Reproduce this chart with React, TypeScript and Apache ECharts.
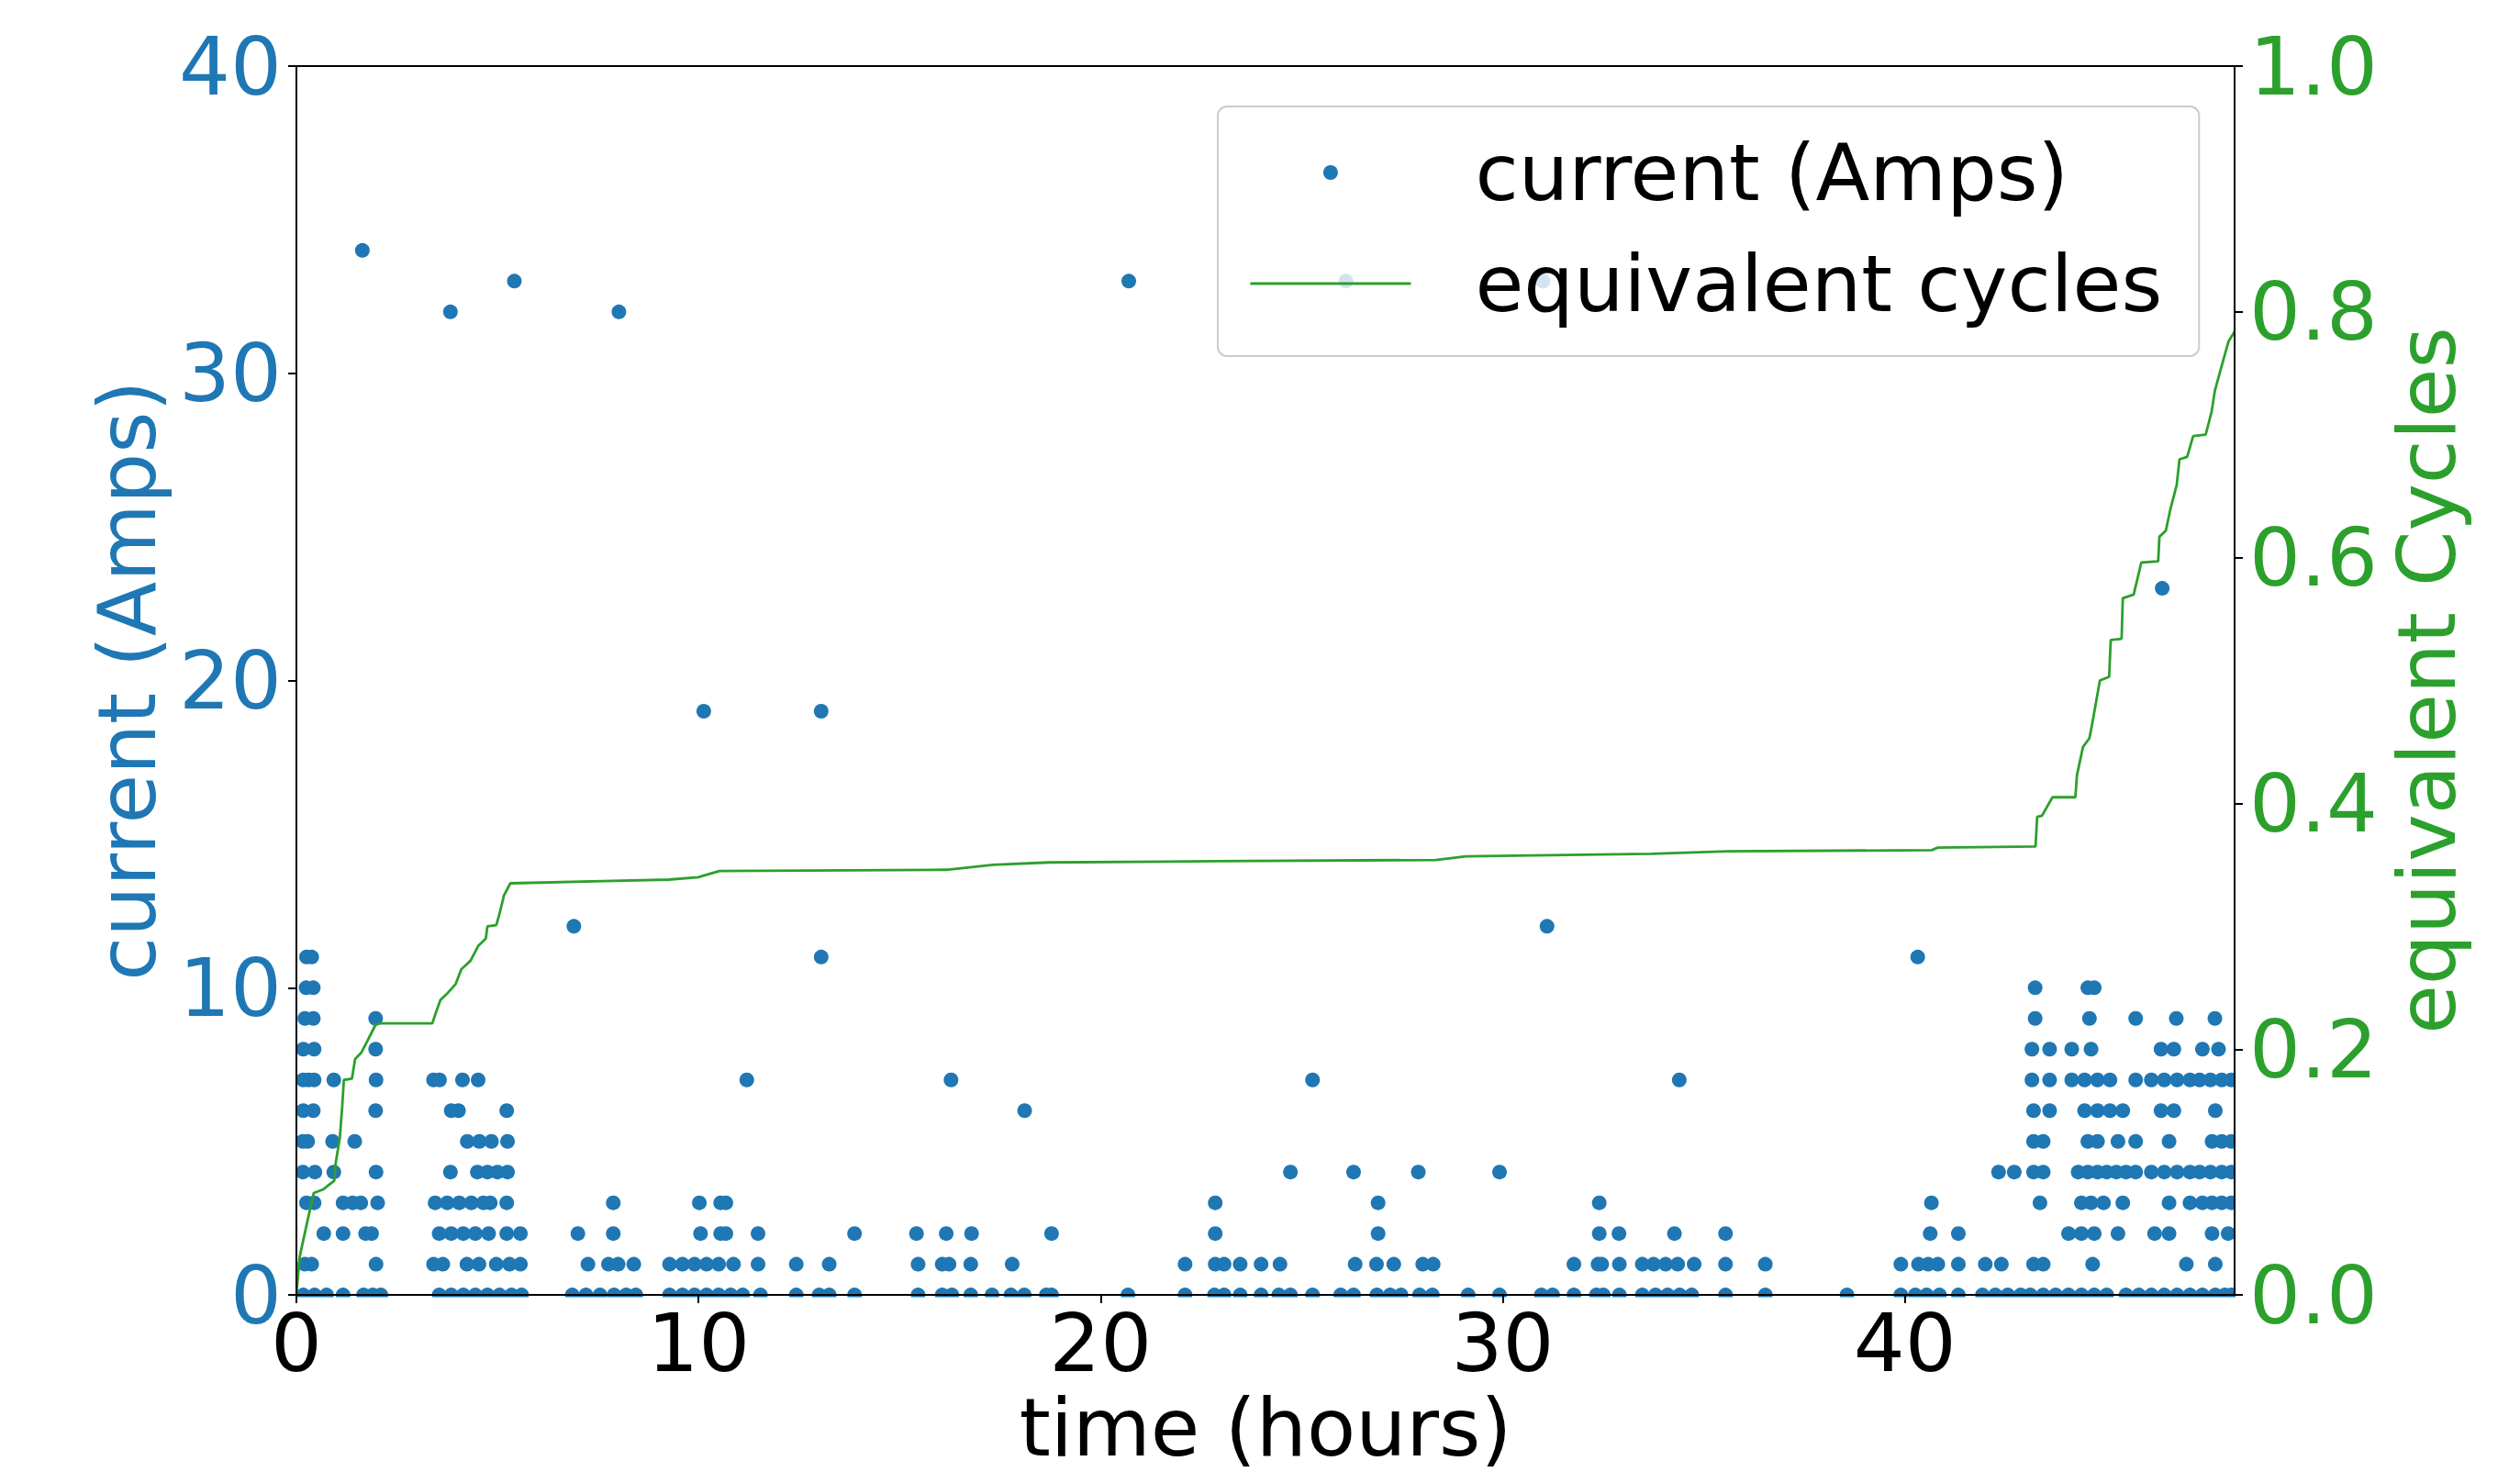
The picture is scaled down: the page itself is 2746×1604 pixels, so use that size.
import React, { useEffect, useRef } from "react";
import * as echarts from "echarts";

// Hours at which each integer current level (in Amps) was recorded
const amps0Hours = [0.17, 0.45, 0.75, 1.16, 1.67, 1.9, 2.1, 3.55, 3.85, 4.15, 4.45, 4.75, 5.05, 5.35, 5.6, 6.86, 7.2, 7.55, 7.9, 8.2, 8.44, 9.28, 9.6, 9.9, 10.2, 10.5, 10.8, 11.1, 11.54, 12.43, 13.0, 13.25, 13.88, 15.46, 16.06, 16.3, 16.77, 17.3, 17.77, 18.1, 18.65, 18.78, 20.68, 22.1, 22.83, 23.07, 23.47, 23.99, 24.43, 24.72, 25.27, 25.97, 26.29, 26.87, 27.2, 27.47, 27.93, 28.25, 29.14, 29.92, 30.96, 31.24, 31.77, 32.33, 32.5, 32.9, 33.47, 33.8, 34.1, 34.4, 34.7, 35.54, 36.53, 38.56, 39.9, 40.26, 40.54, 40.86, 41.33, 41.93, 42.25, 42.56, 42.88, 43.12, 43.44, 43.75, 44.07, 44.39, 44.71, 45.02, 45.5, 45.82, 46.13, 46.45, 46.77, 47.09, 47.4, 47.72, 47.96, 48.12];
const amps1Hours = [0.21, 0.38, 1.98, 3.41, 3.64, 4.24, 4.54, 4.97, 5.3, 5.57, 7.25, 7.76, 8.0, 8.39, 9.28, 9.6, 9.9, 10.2, 10.5, 10.87, 11.48, 12.43, 13.25, 15.46, 16.06, 16.23, 16.77, 17.8, 22.1, 22.85, 23.07, 23.47, 23.99, 24.46, 26.33, 26.86, 27.29, 28.01, 28.27, 31.77, 32.37, 32.46, 32.9, 33.47, 33.75, 34.05, 34.35, 34.76, 35.54, 36.53, 39.9, 40.34, 40.58, 40.82, 41.33, 42.0, 42.4, 43.2, 43.44, 44.67, 47.0, 47.72];
const amps2Hours = [0.68, 1.16, 1.72, 1.87, 3.55, 3.85, 4.15, 4.45, 4.78, 5.23, 5.57, 7.0, 7.88, 10.05, 10.55, 10.68, 11.48, 13.88, 15.42, 16.16, 16.79, 18.78, 22.85, 26.9, 32.4, 32.89, 34.27, 35.54, 40.63, 41.33, 44.07, 44.39, 44.71, 45.3, 46.21, 46.57, 47.64, 48.04];
const amps3Hours = [0.25, 0.44, 1.16, 1.4, 1.6, 2.02, 3.45, 3.75, 4.05, 4.35, 4.65, 4.82, 5.23, 7.88, 10.02, 10.55, 10.68, 22.85, 26.9, 32.4, 40.66, 43.36, 44.39, 44.63, 44.94, 45.42, 46.57, 47.09, 47.4, 47.64, 47.88, 48.12];
const amps4Hours = [0.16, 0.46, 0.93, 1.98, 3.83, 4.5, 4.75, 5.0, 5.25, 24.72, 26.29, 27.9, 29.92, 42.33, 42.72, 43.2, 43.44, 44.31, 44.55, 44.79, 45.02, 45.26, 45.5, 45.74, 46.13, 46.45, 46.77, 47.09, 47.33, 47.6, 47.88, 48.12];
const amps5Hours = [0.16, 0.28, 0.9, 1.45, 4.25, 4.55, 4.85, 5.25, 43.2, 43.44, 44.55, 44.79, 45.3, 45.74, 46.57, 47.64, 47.88, 48.12];
const amps6Hours = [0.17, 0.42, 1.97, 3.85, 4.03, 5.23, 18.11, 43.2, 43.6, 44.47, 44.79, 45.1, 45.42, 46.37, 46.69, 47.72];
const amps7Hours = [0.17, 0.3, 0.44, 0.93, 1.98, 3.41, 3.56, 4.13, 4.52, 11.2, 16.28, 25.27, 34.39, 43.16, 43.6, 44.15, 44.47, 44.79, 45.1, 45.74, 46.13, 46.45, 46.77, 47.09, 47.33, 47.6, 47.88, 48.12];
const amps8Hours = [0.17, 0.44, 1.97, 43.16, 43.6, 44.15, 44.63, 46.37, 46.69, 47.4, 47.8];
const amps9Hours = [0.21, 0.42, 1.97, 43.24, 44.59, 45.74, 46.75, 47.71];
const amps10Hours = [0.24, 0.42, 43.24, 44.55, 44.71];
const amps11Hours = [0.25, 0.38, 13.05, 40.32];

// Isolated high-current readings: [hours, amps]
const highCurrentPoints: [number, number][] = [
  [6.9, 12], [31.1, 12], [10.13, 19], [13.05, 19], [46.4, 23],
  [3.83, 32], [8.02, 32], [5.42, 33], [20.7, 33], [26.1, 33], [31.0, 33], [1.64, 34],
];

// Equivalent cycles (cumulative) vs time
const cycleHours = [0, 0.08, 0.28, 0.43, 0.67, 0.94, 0.98, 1.08, 1.14, 1.18, 1.38, 1.46, 1.61, 1.77, 1.97, 2.04, 3.38, 3.46, 3.58, 3.77, 3.96, 4.1, 4.33, 4.52, 4.71, 4.75, 4.97, 5.05, 5.16, 5.32, 7.86, 9.26, 10.0, 10.52, 16.16, 17.32, 18.72, 22.88, 28.33, 29.09, 33.7, 35.6, 40.67, 40.82, 43.25, 43.29, 43.41, 43.67, 44.24, 44.28, 44.43, 44.59, 44.66, 44.85, 45.08, 45.12, 45.39, 45.42, 45.69, 45.88, 46.3, 46.33, 46.49, 46.6, 46.76, 46.83, 47.02, 47.17, 47.48, 47.63, 47.71, 47.93, 48.05, 48.2];
const cycleValues = [0, 0.031, 0.061, 0.083, 0.086, 0.093, 0.108, 0.128, 0.154, 0.175, 0.176, 0.192, 0.197, 0.207, 0.22, 0.221, 0.221, 0.229, 0.24, 0.246, 0.253, 0.265, 0.272, 0.284, 0.29, 0.3, 0.301, 0.31, 0.325, 0.335, 0.337, 0.338, 0.34, 0.345, 0.346, 0.35, 0.352, 0.353, 0.354, 0.357, 0.359, 0.361, 0.362, 0.364, 0.365, 0.389, 0.39, 0.405, 0.405, 0.423, 0.446, 0.453, 0.465, 0.5, 0.503, 0.533, 0.534, 0.567, 0.57, 0.596, 0.597, 0.617, 0.622, 0.639, 0.659, 0.68, 0.682, 0.699, 0.7, 0.719, 0.736, 0.762, 0.776, 0.784];

const seriesNames = ["current (Amps)", "equivalent cycles"];

const FONT = "DejaVu Sans";
const BLUE = "#1f77b4";
const GREEN = "#2ca02c";

export default function App() {
  const ref = useRef<HTMLDivElement>(null);

  useEffect(() => {
    if (!ref.current) return;
    const chart = echarts.init(ref.current, null, { renderer: "svg" });

    const rows = [amps0Hours, amps1Hours, amps2Hours, amps3Hours, amps4Hours, amps5Hours, amps6Hours, amps7Hours, amps8Hours, amps9Hours, amps10Hours, amps11Hours];
    const scatterData: [number, number][] = [];
    rows.forEach((hrs, amps) => hrs.forEach((h) => scatterData.push([h, amps])));
    highCurrentPoints.forEach((p) => scatterData.push(p));
    const lineData = cycleHours.map((h, i) => [h, cycleValues[i]]);

    const gridLeft = 323;
    const gridRight = 311;
    const gridTop = 72;
    const gridBottom = 192;
    const W = 2746;
    const H = 1604;
    const plotRight = W - gridRight;
    const plotBottom = H - gridBottom;

    chart.setOption({
      animation: false,
      backgroundColor: "#ffffff",
      grid: {
        left: gridLeft,
        right: gridRight,
        top: gridTop,
        bottom: gridBottom,
        show: true,
        borderColor: "#000",
        borderWidth: 2,
        z: 10,
      },
      legend: {
        orient: "vertical",
        left: 1327,
        top: 116,
        padding: [23, 40, 30, 34],
        itemWidth: 175,
        itemHeight: 16,
        itemGap: 23,
        selectedMode: false,
        backgroundColor: "rgba(255,255,255,0.8)",
        borderColor: "#cccccc",
        borderWidth: 2,
        borderRadius: 10,
        textStyle: { fontSize: 86, fontFamily: FONT, color: "#000", lineHeight: 98, padding: [0, 0, 0, 65] },
        data: [
          { name: seriesNames[0] },
          { name: seriesNames[1], itemStyle: { opacity: 0 }, lineStyle: { color: GREEN, width: 2.8, opacity: 1 } },
        ],
      },
      xAxis: {
        type: "value",
        min: 0,
        max: 48.2,
        interval: 10,
        z: 10,
        name: "time (hours)",
        nameLocation: "middle",
        nameGap: 97,
        nameTextStyle: { fontSize: 87, fontFamily: FONT, color: "#000", lineHeight: 86 },
        axisLine: { show: true, lineStyle: { color: "#000", width: 2 } },
        axisTick: { show: true, length: 9, lineStyle: { color: "#000", width: 2 } },
        axisLabel: { fontSize: 88, fontFamily: FONT, color: "#000", margin: 9, lineHeight: 86, showMaxLabel: false },
        splitLine: { show: false },
      },
      yAxis: [
        {
          type: "value",
          min: 0,
          max: 40,
          interval: 10,
          position: "left",
          z: 10,
          name: "current (Amps)",
          nameLocation: "middle",
          nameRotate: 90,
          nameGap: 141,
          nameTextStyle: { fontSize: 87, fontFamily: FONT, color: BLUE },
          axisLine: { show: true, lineStyle: { color: "#000", width: 2 } },
          axisTick: { show: true, length: 9, lineStyle: { color: "#000", width: 2 } },
          axisLabel: { fontSize: 88, fontFamily: FONT, color: BLUE, margin: 16 },
          splitLine: { show: false },
        },
        {
          type: "value",
          min: 0,
          max: 1,
          interval: 0.2,
          position: "right",
          z: 10,
          name: "equivalent Cycles",
          nameLocation: "middle",
          nameRotate: 90,
          nameGap: 163,
          nameTextStyle: { fontSize: 87, fontFamily: FONT, color: GREEN },
          axisLine: { show: true, lineStyle: { color: "#000", width: 2 } },
          axisTick: { show: true, length: 9, lineStyle: { color: "#000", width: 2 } },
          axisLabel: {
            fontSize: 88,
            fontFamily: FONT,
            color: GREEN,
            margin: 16,
            formatter: (v: number) => v.toFixed(1),
          },
          splitLine: { show: false },
        },
      ],
      graphic: [
        { type: "rect", silent: true, z: 3, shape: { x: 290, y: plotBottom + 1.5, width: plotRight - 270, height: 16 }, style: { fill: "#fff" } },
        { type: "rect", silent: true, z: 3, shape: { x: 300, y: gridTop - 20, width: gridLeft - 301, height: plotBottom - gridTop + 40 }, style: { fill: "#fff" } },
        { type: "rect", silent: true, z: 3, shape: { x: plotRight + 1, y: gridTop - 20, width: 15, height: plotBottom - gridTop + 40 }, style: { fill: "#fff" } },
      ],
      series: [
        {
          name: seriesNames[0],
          type: "scatter",
          yAxisIndex: 0,
          symbol: "circle",
          symbolSize: 16,
          itemStyle: { color: BLUE, opacity: 1 },
          data: scatterData,
        },
        {
          name: seriesNames[1],
          type: "line",
          yAxisIndex: 1,
          showSymbol: false,
          symbol: "none",
          lineStyle: { color: GREEN, width: 2.8 },
          itemStyle: { color: GREEN },
          data: lineData,
        },
      ],
    });

    return () => chart.dispose();
  }, []);

  return (
    <div
      ref={ref}
      style={{ position: "absolute", left: 0, top: 0, width: 2746, height: 1604, background: "#fff" }}
    />
  );
}
